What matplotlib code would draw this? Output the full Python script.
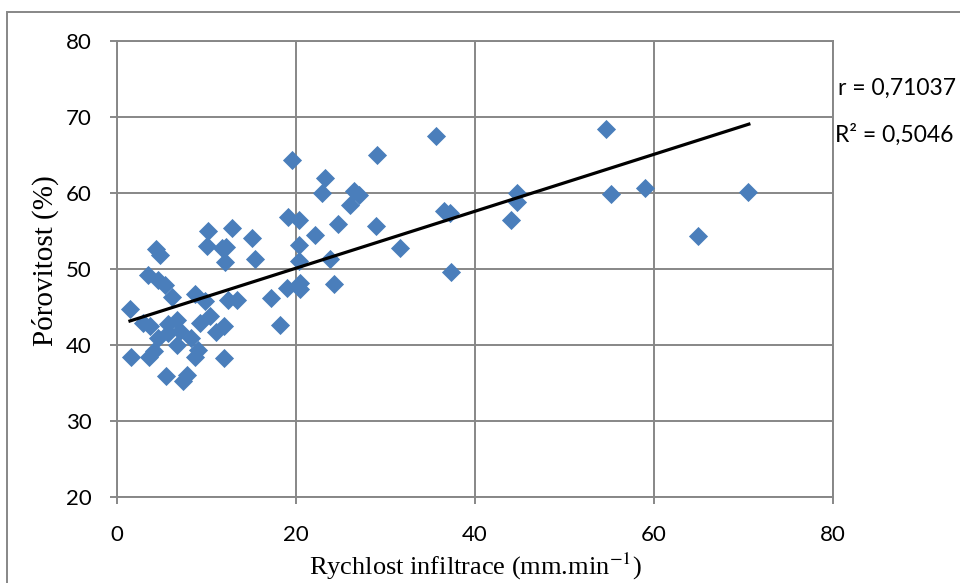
import numpy as np
import matplotlib.pyplot as plt
from matplotlib.patches import Rectangle

plt.rcParams['mathtext.fontset'] = 'stix'

# infiltration rate (mm/min) and porosity (%)
rychlost = [1.5, 1.6, 2.9, 3.5, 3.6, 3.7, 4.1, 4.4, 4.6, 4.8, 4.6, 5.4, 5.5, 5.7,
            5.7, 6.1, 6.7, 6.7, 7.0, 7.4, 7.8, 8.3, 8.7, 8.7, 9.1, 9.3, 9.8, 10.4,
            10.2, 10.1, 11.1, 11.7, 12.2, 11.9, 11.9, 12.1, 12.4, 12.9, 13.4, 15.1,
            15.4, 17.2, 18.2, 19.0, 19.1, 19.5, 20.3, 20.3, 20.3, 20.4, 20.4, 22.1,
            22.9, 23.2, 23.8, 24.2, 24.7, 26.0, 26.5, 27.0, 28.9, 29.1, 31.6, 35.6,
            36.5, 37.2, 37.3, 44.0, 44.7, 44.7, 54.6, 55.2, 59.0, 64.9, 70.5]
porovitost = [44.8, 38.4, 43.0, 49.2, 38.4, 42.6, 39.2, 52.7, 40.9, 51.9, 48.6, 47.9, 36.0, 42.8,
              41.6, 46.3, 43.3, 40.0, 41.9, 35.3, 36.1, 40.9, 46.8, 38.5, 39.4, 43.0, 45.8, 43.8,
              55.0, 53.1, 41.7, 52.8, 52.9, 42.5, 38.3, 50.9, 46.0, 55.4, 46.0, 54.1,
              51.4, 46.2, 42.7, 47.5, 56.9, 64.4, 56.5, 53.2, 51.1, 48.2, 47.4, 54.5,
              60.0, 62.0, 51.4, 48.1, 56.0, 58.4, 60.3, 59.8, 55.7, 65.1, 52.8, 67.5,
              57.7, 57.4, 49.7, 56.5, 60.0, 58.9, 68.5, 59.9, 60.7, 54.4, 60.2]

# linear trend as drawn in the chart (end points)
trend_x = [1.45, 70.6]
trend_y = [43.2, 69.1]

x_ticks = [0, 20, 40, 60, 80]
y_ticks = [20, 30, 40, 50, 60, 70, 80]
r_text = 'r = 0,71037'
r2_text = 'R² = 0,5046'

fig = plt.figure(figsize=(9.6, 5.83), dpi=100)
ax = fig.add_axes([117/960, 1-497.3/583, (833-117)/960, (497.3-41.3)/583])

grid_c = '#878787'
ax.scatter(rychlost, porovitost, marker='D', s=95, color='#4a7ebb', linewidths=0, zorder=3)
ax.plot(trend_x, trend_y, color='black', lw=2.3, zorder=4)

ax.set_xlim(0, 80)
ax.set_ylim(20, 80)
ax.set_xticks(x_ticks)
ax.set_yticks(y_ticks)
ax.grid(True, color=grid_c, lw=1.4)
for s in ax.spines.values():
    s.set_color(grid_c)
    s.set_linewidth(1.4)
ax.tick_params(direction='out', length=5, width=1.4, color=grid_c, labelsize=16)
ax.tick_params(axis='x', pad=15)
ax.tick_params(axis='y', pad=13)
for lab in ax.get_xticklabels() + ax.get_yticklabels():
    lab.set_family('Lato')

ax.set_xlabel(r'Rychlost infiltrace (mm.min$^{-1}$)', family='Liberation Serif',
              fontsize=19, va='center')
ax.xaxis.set_label_coords(0.5, (497.3-566)/456)
ax.set_ylabel('Pórovitost (%)', family='Liberation Serif', fontsize=21, va='center')
ax.yaxis.set_label_coords((45-117)/716, 0.518)

fig.text(838/960, 1-88/583, r_text, family='Lato', fontsize=16.5, va='center')
fig.text(835/960, 1-135/583, r2_text, family='Lato', fontsize=16.5, va='center')

# chart area border
fig.patches.append(Rectangle((7/960, -0.1), 1.2, 1-12/583+0.1, transform=fig.transFigure,
                             fill=False, edgecolor=grid_c, lw=1.4))

fig.savefig('out.png', dpi=100)
